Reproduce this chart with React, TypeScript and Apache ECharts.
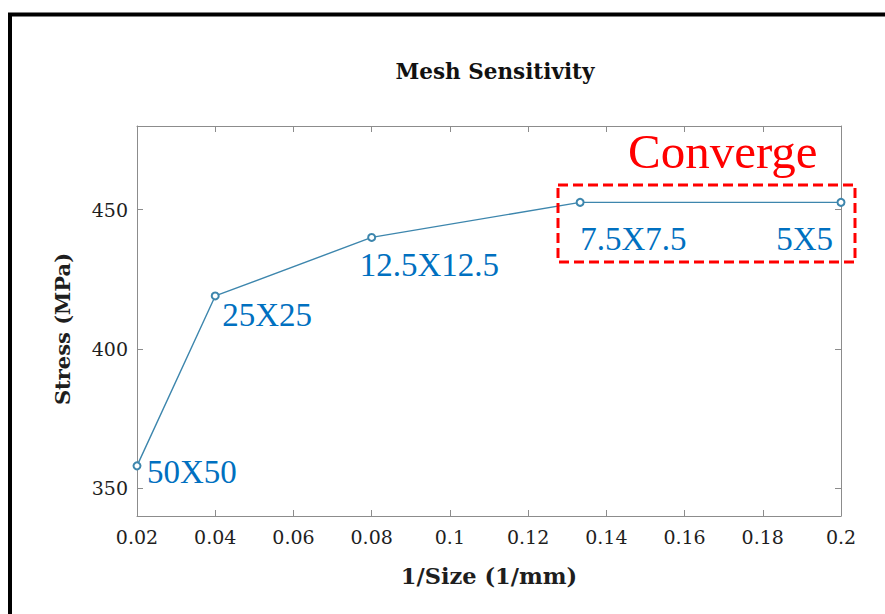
import React, { useEffect, useRef } from 'react';
import * as echarts from 'echarts';

// ---- data ----
const inverseSize = [0.02, 0.04, 0.08, 0.1333, 0.2];
const stressValues = [358, 419, 440, 452.6, 452.6];
const meshLabels = ['50X50', '25X25', '12.5X12.5', '7.5X7.5', '5X5'];
const yTickValues = [350, 400, 450];
const titleText = 'Mesh Sensitivity';
const xAxisName = '1/Size (1/mm)';
const yAxisName = 'Stress (MPa)';
const noteText = 'Converge';

// label placement styles (relative to each point)
const labelPlacement = [
  { align: 'left', offset: [10, 6] },
  { align: 'left', offset: [7, 19] },
  { align: 'left', offset: [-12, 28] },
  { align: 'left', offset: [0, 37] },
  { align: 'right', offset: [-8, 37] },
];

const INK = '#1e1e1e';
const AXIS = '#8c8c8c';
const LINE = '#3d86ad';
const SERIF = 'DejaVu Serif';

export default function App() {
  const ref = useRef<HTMLDivElement>(null);

  useEffect(() => {
    if (!ref.current) return;
    const chart = echarts.init(ref.current, null, { renderer: 'svg' });

    const data = inverseSize.map((x, i) => ({
      value: [x, stressValues[i]],
      label: {
        show: true,
        position: 'inside',
        formatter: meshLabels[i],
        align: labelPlacement[i].align,
        verticalAlign: 'middle',
        offset: labelPlacement[i].offset,
        color: '#0070C0',
        fontFamily: 'Liberation Serif',
        fontSize: 33,
      },
    }));

    const xBase = {
      type: 'value',
      min: 0.02,
      max: 0.2,
      interval: 0.02,
      axisLine: { show: true, lineStyle: { color: AXIS, width: 1 } },
      axisTick: { show: true, inside: true, length: 6, lineStyle: { color: AXIS } },
      splitLine: { show: false },
    };
    const yBase = {
      type: 'value',
      min: 340,
      max: 480,
      axisLine: { show: true, lineStyle: { color: AXIS, width: 1 } },
      axisTick: { show: true, inside: true, length: 6, customValues: yTickValues, lineStyle: { color: AXIS } },
      splitLine: { show: false },
    };

    chart.setOption({
      animation: false,
      backgroundColor: '#ffffff',
      title: {
        text: titleText,
        left: 490,
        top: 55,
        textAlign: 'center',
        textStyle: { fontFamily: SERIF, fontSize: 21.5, fontWeight: 'bold', color: '#111' },
      },
      grid: { left: 137, right: 44, top: 126, bottom: 98, containLabel: false },
      xAxis: [
        {
          ...xBase,
          position: 'bottom',
          name: xAxisName,
          nameLocation: 'middle',
          nameGap: 48,
          nameTextStyle: { fontFamily: SERIF, fontSize: 22.5, fontWeight: 'bold', color: INK },
          axisLabel: {
            show: true,
            margin: 11,
            fontFamily: SERIF,
            fontSize: 19,
            color: INK,
            formatter: (v: number) => String(Math.round(v * 100) / 100),
          },
        },
        { ...xBase, position: 'top', axisLabel: { show: false } },
      ],
      yAxis: [
        {
          ...yBase,
          position: 'left',
          axisLabel: {
            show: true,
            margin: 9,
            customValues: yTickValues,
            fontFamily: SERIF,
            fontSize: 19,
            color: INK,
          },
        },
        { ...yBase, position: 'right', axisLabel: { show: false } },
      ],
      series: [
        {
          type: 'line',
          data,
          symbol: 'emptyCircle',
          symbolSize: 7,
          showAllSymbol: true,
          lineStyle: { color: LINE, width: 1.4 },
          itemStyle: { color: LINE, borderColor: LINE, borderWidth: 1.2 },
          emphasis: { disabled: true },
          clip: false,
          z: 3,
        },
      ],
      graphic: [
        {
          type: 'rect',
          shape: { x: 10, y: 14.5, width: 900, height: 700 },
          style: { fill: 'none', stroke: '#000', lineWidth: 4 },
          silent: true,
        },
        {
          type: 'text',
          x: 62,
          y: 329,
          rotation: Math.PI / 2,
          style: {
            text: yAxisName,
            fontFamily: SERIF,
            fontSize: 21,
            fontWeight: 'bold',
            fill: INK,
            align: 'center',
            verticalAlign: 'middle',
          },
          silent: true,
        },
        {
          type: 'rect',
          shape: { x: 558, y: 185, width: 297, height: 77 },
          style: { fill: 'none', stroke: '#ff0000', lineWidth: 3, lineDash: [10, 5] },
          silent: true,
          z: 10,
        },
        {
          type: 'text',
          x: 628,
          y: 151,
          style: {
            text: noteText,
            fontFamily: 'Liberation Serif',
            fontSize: 49,
            fill: '#ff0000',
            align: 'left',
            verticalAlign: 'middle',
          },
          silent: true,
          z: 10,
        },
      ],
    });

    return () => chart.dispose();
  }, []);

  return (
    <div
      ref={ref}
      style={{ position: 'fixed', left: 0, top: 0, width: 885, height: 614, background: '#fff' }}
    />
  );
}
